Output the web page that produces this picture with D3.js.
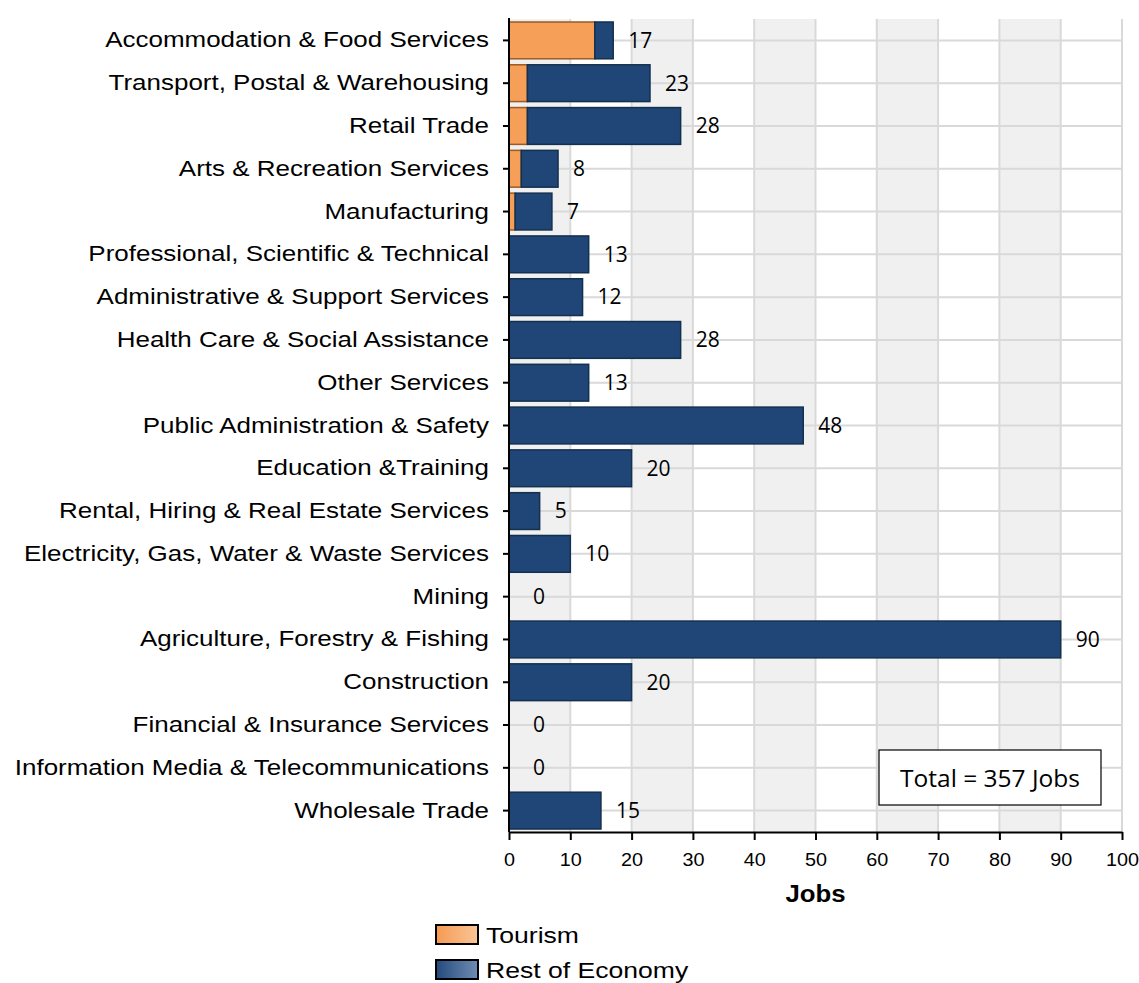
<!DOCTYPE html>
<html>
<head>
<meta charset="utf-8">
<script src="https://cdn.jsdelivr.net/npm/d3@7.9.0/dist/d3.min.js"></script>
<style>
  body { margin: 0; background: #fff; }
  svg { display: block; }
</style>
</head>
<body>
<svg width="1139" height="983"></svg>
<script>
const categories = [
  "Accommodation & Food Services",
  "Transport, Postal & Warehousing",
  "Retail Trade",
  "Arts & Recreation Services",
  "Manufacturing",
  "Professional, Scientific & Technical",
  "Administrative & Support Services",
  "Health Care & Social Assistance",
  "Other Services",
  "Public Administration & Safety",
  "Education &Training",
  "Rental, Hiring & Real Estate Services",
  "Electricity, Gas, Water & Waste Services",
  "Mining",
  "Agriculture, Forestry & Fishing",
  "Construction",
  "Financial & Insurance Services",
  "Information Media & Telecommunications",
  "Wholesale Trade"
];
const tourism = [14, 3, 3, 2, 1, 0, 0, 0, 0, 0, 0, 0, 0, 0, 0, 0, 0, 0, 0];
const restOfEconomy = [3, 20, 25, 6, 6, 13, 12, 28, 13, 48, 20, 5, 10, 0, 90, 20, 0, 0, 15];
const xTicks = [0, 10, 20, 30, 40, 50, 60, 70, 80, 90, 100];
const totalText = "Total = 357 Jobs";

const data = categories.map((c, i) => ({
  cat: c, tourism: tourism[i], rest: restOfEconomy[i], total: tourism[i] + restOfEconomy[i]
}));

const svg = d3.select("svg");
const margin = { top: 19, right: 17, bottom: 151, left: 509 };
const width = 1139, height = 983;
const ARIAL = "Liberation Sans, Arial, sans-serif";

// the original chart's Arial text is a bit wider than normal
function stretch(sel, k) {
  sel.each(function() {
    const w = this.getComputedTextLength();
    d3.select(this).attr("textLength", w * k).attr("lengthAdjust", "spacingAndGlyphs");
  });
}

const x = d3.scaleLinear().domain([0, 100]).range([margin.left, width - margin.right]);
const y = d3.scaleBand().domain(categories).range([margin.top, height - margin.bottom]).paddingInner(0.14).paddingOuter(0.07);
const yc = c => y(c) + y.bandwidth() / 2;

// gradients for legend
const defs = svg.append("defs");
const g1 = defs.append("linearGradient").attr("id", "gTour");
g1.append("stop").attr("offset", "0%").attr("stop-color", "#f59a52");
g1.append("stop").attr("offset", "100%").attr("stop-color", "#fac596");
const g2 = defs.append("linearGradient").attr("id", "gRest");
g2.append("stop").attr("offset", "0%").attr("stop-color", "#234a7c");
g2.append("stop").attr("offset", "100%").attr("stop-color", "#6f8db3");

// alternating bands
svg.append("g").selectAll("rect")
  .data(xTicks.slice(0, -1).filter(t => t % 20 === 0))
  .join("rect")
  .attr("x", d => x(d)).attr("width", d => x(d + 10) - x(d))
  .attr("y", margin.top).attr("height", height - margin.bottom - margin.top)
  .attr("fill", "#f0f0f0");

// vertical grid
svg.append("g").selectAll("line")
  .data(xTicks.slice(1))
  .join("line")
  .attr("x1", d => x(d)).attr("x2", d => x(d))
  .attr("y1", margin.top).attr("y2", height - margin.bottom)
  .attr("stroke", "#d9d9d9").attr("stroke-width", 2);

// horizontal grid at category centers
svg.append("g").selectAll("line")
  .data(categories)
  .join("line")
  .attr("x1", x(0)).attr("x2", x(100))
  .attr("y1", d => yc(d)).attr("y2", d => yc(d))
  .attr("stroke", "#d9d9d9").attr("stroke-width", 2);

// bars
const bars = svg.append("g");
bars.selectAll("rect.tour")
  .data(data.filter(d => d.tourism > 0))
  .join("rect")
  .attr("class", "tour")
  .attr("x", d => x(0)).attr("width", d => x(d.tourism) - x(0))
  .attr("y", d => y(d.cat)).attr("height", y.bandwidth())
  .attr("fill", "#f59f58").attr("stroke", "#9c5a25").attr("stroke-width", 1.5);
bars.selectAll("rect.rest")
  .data(data.filter(d => d.rest > 0))
  .join("rect")
  .attr("class", "rest")
  .attr("x", d => x(d.tourism)).attr("width", d => x(d.total) - x(d.tourism))
  .attr("y", d => y(d.cat)).attr("height", y.bandwidth())
  .attr("fill", "#1f4677").attr("stroke", "#14304f").attr("stroke-width", 1.5);

// value labels
svg.append("g").selectAll("text")
  .data(data)
  .join("text")
  .attr("x", d => x(d.total) + (d.total === 0 ? 24 : 15))
  .attr("y", d => yc(d.cat))
  .attr("dy", "0.35em")
  .attr("font-family", "Open Sans, Liberation Sans, sans-serif")
  .attr("font-size", 21)
  .attr("fill", "#000")
  .text(d => d.total);

// y axis
const yAxis = svg.append("g")
  .attr("transform", `translate(${margin.left},0)`)
  .call(d3.axisLeft(y).tickSize(6).tickPadding(14));
yAxis.select(".domain").attr("stroke", "#000").attr("stroke-width", 2)
  .attr("d", `M0,${margin.top - 1}V${height - margin.bottom}`);
yAxis.selectAll(".tick line").attr("stroke", "#000").attr("stroke-width", 2);
yAxis.selectAll(".tick text")
  .attr("font-family", ARIAL)
  .attr("font-size", 22).attr("fill", "#000")
  .call(stretch, 1.18);

// x axis
const xAxis = svg.append("g")
  .attr("transform", `translate(0,${height - margin.bottom})`)
  .call(d3.axisBottom(x).tickValues(xTicks).tickSize(8).tickPadding(13).tickSizeOuter(0));
xAxis.select(".domain").attr("stroke", "#000").attr("stroke-width", 2);
xAxis.selectAll(".tick line").attr("stroke", "#000").attr("stroke-width", 2);
xAxis.selectAll(".tick text")
  .attr("font-family", ARIAL)
  .attr("font-size", 18).attr("fill", "#000")
  .call(stretch, 1.1);

svg.append("text")
  .attr("x", (x(0) + x(100)) / 2).attr("y", 902)
  .attr("text-anchor", "middle")
  .attr("font-family", ARIAL)
  .attr("font-weight", "bold").attr("font-size", 23)
  .text("Jobs")
  .call(stretch, 1.12);

// total box
const box = svg.append("g");
box.append("rect")
  .attr("x", 879).attr("y", 750).attr("width", 222).attr("height", 55)
  .attr("fill", "#fff").attr("stroke", "#000").attr("stroke-width", 1.2);
box.append("text")
  .attr("x", 990).attr("y", 778).attr("dy", "0.35em")
  .attr("text-anchor", "middle")
  .attr("font-family", "Open Sans, Liberation Sans, sans-serif")
  .attr("font-size", 24.5)
  .text(totalText);

// legend
const legend = svg.append("g");
[["Tourism", "url(#gTour)"], ["Rest of Economy", "url(#gRest)"]].forEach(([name, fill], i) => {
  const ly = 925 + i * 35;
  legend.append("rect")
    .attr("x", 436).attr("y", ly).attr("width", 42).attr("height", 19)
    .attr("fill", fill).attr("stroke", "#000").attr("stroke-width", 2);
  legend.append("text")
    .attr("x", 486).attr("y", ly + 10).attr("dy", "0.35em")
    .attr("font-family", ARIAL)
    .attr("font-size", 22.5)
    .text(name)
    .call(stretch, 1.18);
});
</script>
</body>
</html>
